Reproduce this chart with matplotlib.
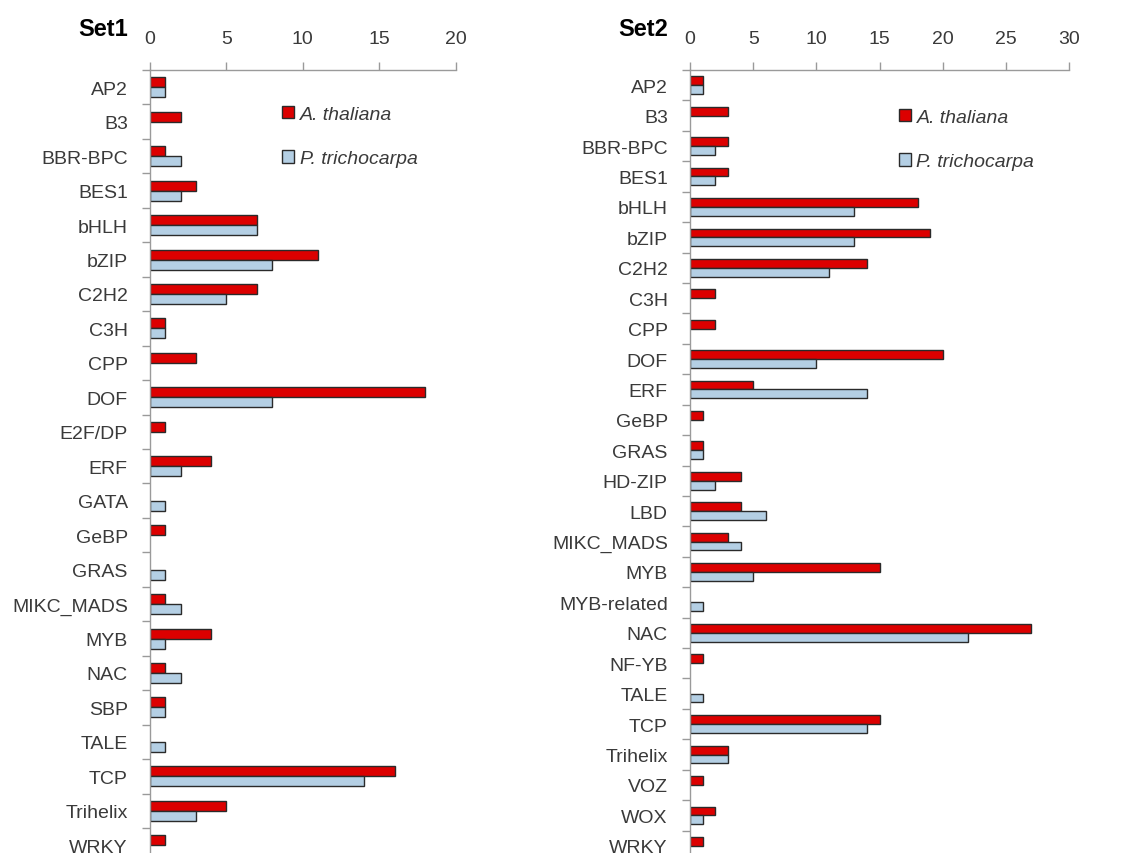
import numpy as np
import matplotlib.pyplot as plt
from matplotlib.patches import Patch

# transcription factor families per set, with counts for each species
set1_families = ["AP2", "B3", "BBR-BPC", "BES1", "bHLH", "bZIP", "C2H2", "C3H", "CPP",
                 "DOF", "E2F/DP", "ERF", "GATA", "GeBP", "GRAS", "MIKC_MADS", "MYB",
                 "NAC", "SBP", "TALE", "TCP", "Trihelix", "WRKY"]
set1_ath = [1, 2, 1, 3, 7, 11, 7, 1, 3, 18, 1, 4, 0, 1, 0, 1, 4, 1, 1, 0, 16, 5, 1]
set1_ptr = [1, 0, 2, 2, 7, 8, 5, 1, 0, 8, 0, 2, 1, 0, 1, 2, 1, 2, 1, 1, 14, 3, 0]

set2_families = ["AP2", "B3", "BBR-BPC", "BES1", "bHLH", "bZIP", "C2H2", "C3H", "CPP",
                 "DOF", "ERF", "GeBP", "GRAS", "HD-ZIP", "LBD", "MIKC_MADS", "MYB",
                 "MYB-related", "NAC", "NF-YB", "TALE", "TCP", "Trihelix", "VOZ",
                 "WOX", "WRKY"]
set2_ath = [1, 3, 3, 3, 18, 19, 14, 2, 2, 20, 5, 1, 1, 4, 4, 3, 15, 0, 27, 1, 0, 15, 3, 1, 2, 1]
set2_ptr = [1, 0, 2, 2, 13, 13, 11, 0, 0, 10, 14, 0, 1, 2, 6, 4, 5, 1, 22, 0, 1, 14, 3, 0, 1, 0]

RED = "#dc0000"
BLUE = "#b4cfe4"
EDGE = "#2a2a2a"
TXT = "#3a3a3a"
AXC = "#9a9a9a"

plt.rcParams["font.family"] = ["Liberation Sans", "DejaVu Sans"]

W, H = 1126, 854
fig = plt.figure(figsize=(W / 100, H / 100), dpi=100)


def px_axes(x0, x1, y0, y1):
    # axes box given in pixel coords (y from top)
    return fig.add_axes([x0 / W, 1 - y1 / H, (x1 - x0) / W, (y1 - y0) / H])


def draw_set(ax, fams, ath, ptr, xmax, title, title_x, leg_xy):
    n = len(fams)
    y = np.arange(n)
    h = 0.29
    ath = np.array(ath)
    ptr = np.array(ptr)
    m1 = ath > 0
    m2 = ptr > 0
    ax.barh(y[m1] - h / 2, ath[m1], height=h, color=RED, edgecolor=EDGE, linewidth=1.0)
    ax.barh(y[m2] + h / 2, ptr[m2], height=h, color=BLUE, edgecolor=EDGE, linewidth=1.0)

    ax.set_xlim(0, xmax)
    ax.set_ylim(n - 0.5, -0.5)
    ax.xaxis.tick_top()
    ax.set_xticks(np.arange(0, xmax + 1, 5))
    ax.tick_params(axis="x", direction="out", length=6, width=1, color=AXC,
                   labelsize=14, labelcolor=TXT, pad=10.5)

    # boundary ticks between families, labels at the centres
    ax.set_yticks(np.arange(n + 1) - 0.5)
    ax.set_yticklabels([])
    ax.set_yticks(y, minor=True)
    ax.set_yticklabels(fams, minor=True)
    ax.tick_params(axis="y", which="major", direction="out", length=6, width=1, color=AXC)
    ax.tick_params(axis="y", which="minor", length=0, labelsize=14, labelcolor=TXT, pad=16)

    for s in ["right", "bottom"]:
        ax.spines[s].set_visible(False)
    for s in ["top", "left"]:
        ax.spines[s].set_color(AXC)
        ax.spines[s].set_linewidth(1)

    fig.text(title_x / W, 1 - 30 / H, title, ha="right", va="center",
             fontsize=17, fontweight="bold", color="black")

    handles = [Patch(facecolor=RED, edgecolor=EDGE, linewidth=1.0),
               Patch(facecolor=BLUE, edgecolor=EDGE, linewidth=1.0)]
    leg = ax.legend(handles, ["A. thaliana", "P. trichocarpa"], loc="upper left",
                    bbox_to_anchor=(leg_xy[0] / W, 1 - leg_xy[1] / H),
                    bbox_transform=fig.transFigure, frameon=False,
                    handlelength=0.6, handleheight=0.6, handletextpad=0.3,
                    labelspacing=1.4, borderpad=0, borderaxespad=0,
                    prop={"size": 14, "style": "italic"})
    for t in leg.get_texts():
        t.set_color(TXT)


ax1 = px_axes(150, 455.7, 71, 863.5)
draw_set(ax1, set1_families, set1_ath, set1_ptr, 20, "Set1", 128, (282, 107))

ax2 = px_axes(690, 1069.3, 71, 862)
draw_set(ax2, set2_families, set2_ath, set2_ptr, 30, "Set2", 668, (899, 110))

fig.savefig("out.png", dpi=100)
